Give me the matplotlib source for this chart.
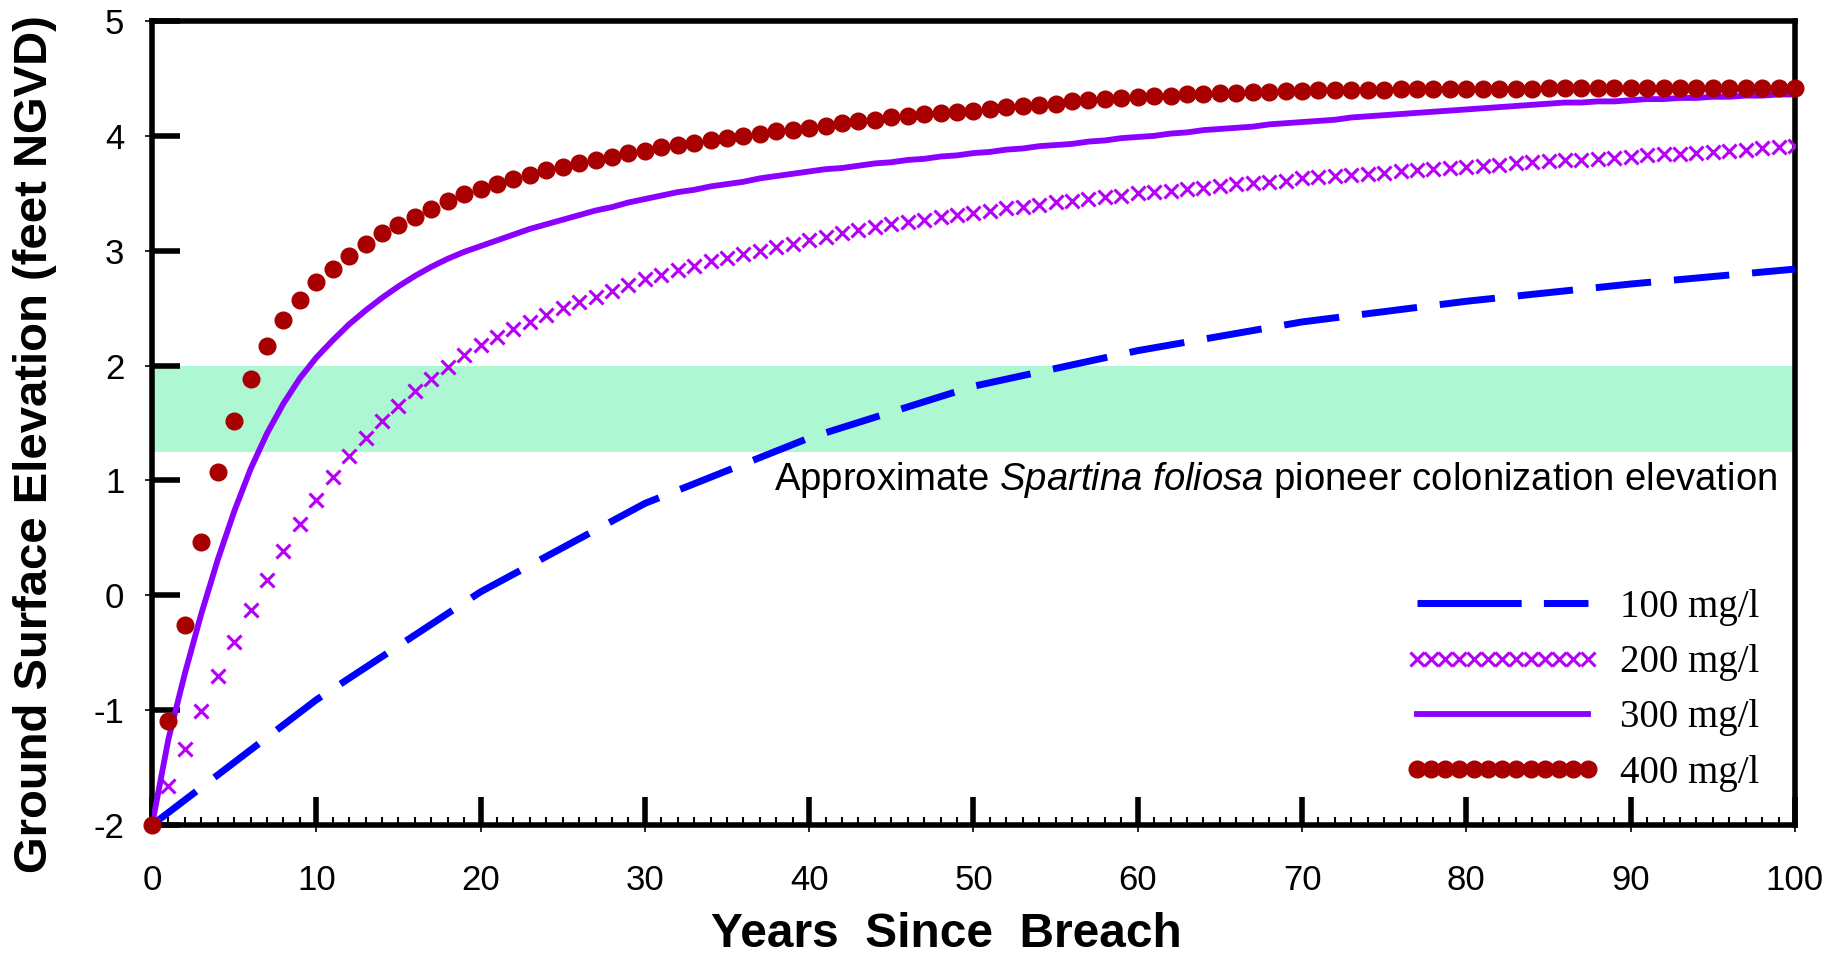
"""Ground surface elevation after breach for four sediment concentrations."""

import matplotlib

matplotlib.use("Agg")
import matplotlib.pyplot as plt
from matplotlib.lines import Line2D
from matplotlib.ticker import MultipleLocator

YEARS = list(range(0, 101))

# 100 mg/l read at each decade (drawn as a dashed polyline)
DECADES = [0, 10, 20, 30, 40, 50, 60, 70, 80, 90, 100]
ELEV_100 = [-2.0, -0.91, 0.03, 0.80, 1.37, 1.82, 2.13, 2.38, 2.56, 2.71, 2.84]

ELEV_200 = [
    -2.0, -1.66, -1.34, -1.01, -0.70, -0.41, -0.13, 0.13, 0.39, 0.62,
    0.83, 1.03, 1.21, 1.37, 1.52, 1.65, 1.78, 1.88, 1.99, 2.09,
    2.18, 2.25, 2.32, 2.38, 2.44, 2.50, 2.55, 2.60, 2.65, 2.70,
    2.75, 2.79, 2.83, 2.87, 2.91, 2.94, 2.97, 3.00, 3.03, 3.06,
    3.09, 3.12, 3.15, 3.18, 3.21, 3.23, 3.25, 3.27, 3.29, 3.31,
    3.33, 3.35, 3.37, 3.38, 3.40, 3.42, 3.43, 3.45, 3.47, 3.48,
    3.50, 3.51, 3.52, 3.54, 3.55, 3.56, 3.58, 3.59, 3.60, 3.61,
    3.63, 3.64, 3.65, 3.66, 3.67, 3.68, 3.69, 3.70, 3.71, 3.72,
    3.73, 3.74, 3.75, 3.76, 3.77, 3.78, 3.79, 3.79, 3.80, 3.81,
    3.82, 3.83, 3.84, 3.84, 3.85, 3.86, 3.87, 3.88, 3.89, 3.90,
    3.91,
]

ELEV_300 = [
    -2.0, -1.25, -0.68, -0.16, 0.31, 0.73, 1.10, 1.41, 1.67, 1.89,
    2.07, 2.22, 2.36, 2.48, 2.59, 2.69, 2.78, 2.86, 2.93, 2.99,
    3.04, 3.09, 3.14, 3.19, 3.23, 3.27, 3.31, 3.35, 3.38, 3.42,
    3.45, 3.48, 3.51, 3.53, 3.56, 3.58, 3.60, 3.63, 3.65, 3.67,
    3.69, 3.71, 3.72, 3.74, 3.76, 3.77, 3.79, 3.80, 3.82, 3.83,
    3.85, 3.86, 3.88, 3.89, 3.91, 3.92, 3.93, 3.95, 3.96, 3.98,
    3.99, 4.00, 4.02, 4.03, 4.05, 4.06, 4.07, 4.08, 4.10, 4.11,
    4.12, 4.13, 4.14, 4.16, 4.17, 4.18, 4.19, 4.20, 4.21, 4.22,
    4.23, 4.24, 4.25, 4.26, 4.27, 4.28, 4.29, 4.29, 4.30, 4.30,
    4.31, 4.32, 4.32, 4.33, 4.33, 4.34, 4.34, 4.35, 4.35, 4.36,
    4.36,
]

ELEV_400 = [
    -2.0, -1.09, -0.26, 0.46, 1.07, 1.52, 1.88, 2.17, 2.40, 2.57,
    2.73, 2.84, 2.95, 3.06, 3.15, 3.22, 3.29, 3.36, 3.43, 3.49,
    3.54, 3.58, 3.62, 3.66, 3.70, 3.73, 3.76, 3.79, 3.82, 3.85,
    3.87, 3.90, 3.92, 3.94, 3.96, 3.98, 4.00, 4.02, 4.04, 4.05,
    4.07, 4.09, 4.11, 4.13, 4.14, 4.16, 4.17, 4.19, 4.20, 4.21,
    4.22, 4.23, 4.25, 4.26, 4.27, 4.28, 4.30, 4.31, 4.32, 4.33,
    4.34, 4.35, 4.35, 4.36, 4.36, 4.37, 4.37, 4.38, 4.38, 4.39,
    4.39, 4.40, 4.40, 4.40, 4.40, 4.40, 4.41, 4.41, 4.41, 4.41,
    4.41, 4.41, 4.41, 4.41, 4.41, 4.42, 4.42, 4.42, 4.42, 4.42,
    4.42, 4.42, 4.42, 4.42, 4.42, 4.42, 4.42, 4.42, 4.42, 4.42,
    4.42,
]

BAND_LOW, BAND_HIGH = 1.25, 2.0
LABELS = ["100 mg/l", "200 mg/l", "300 mg/l", "400 mg/l"]

BLUE = "#0000FF"
MAGENTA = "#B400F5"
VIOLET = "#8C00FF"
DARK_RED = "#A80000"
MINT = "#ADF7D3"

plt.rcParams["axes.unicode_minus"] = False
plt.rcParams["mathtext.fontset"] = "custom"
plt.rcParams["mathtext.rm"] = "Liberation Sans"
plt.rcParams["mathtext.it"] = "Liberation Sans:italic"
SANS = ["Liberation Sans", "DejaVu Sans"]


def main() -> None:
    fig = plt.figure(figsize=(18.34, 9.58), dpi=100)
    ax = fig.add_axes([0.0829, 0.1388, 0.8958, 0.8393])

    ax.axhspan(BAND_LOW, BAND_HIGH, color=MINT, lw=0, zorder=0)

    ax.plot(DECADES, ELEV_100, color=BLUE, lw=5, dashes=(8, 3.3),
            solid_capstyle="butt", dash_capstyle="butt", zorder=3)
    ax.plot(YEARS, ELEV_200, ls="none", marker="x", ms=9.5, mew=2.2,
            color=MAGENTA, zorder=3)
    ax.plot(YEARS, ELEV_300, color=VIOLET, lw=4.2, zorder=4)
    ax.plot(YEARS, ELEV_400, ls="none", marker="o", ms=12, color=DARK_RED,
            mec=DARK_RED, zorder=5, clip_on=False)

    ax.text(98.9, 1.0,
            r"Approximate $\mathit{Spartina\ foliosa}$ pioneer colonization elevation",
            ha="right", va="center", fontsize=27.5, family=SANS)

    ax.set_xlim(0, 100)
    ax.set_ylim(-2, 5)
    ax.xaxis.set_major_locator(MultipleLocator(10))
    ax.xaxis.set_minor_locator(MultipleLocator(1))
    ax.yaxis.set_major_locator(MultipleLocator(1))

    for side in ["left", "right", "top", "bottom"]:
        ax.spines[side].set_linewidth(4)
    ax.tick_params(axis="both", which="major", direction="in", length=20,
                   width=4, labelsize=25)
    ax.tick_params(axis="x", which="major", pad=28)
    ax.tick_params(axis="y", which="major", pad=20)
    ax.tick_params(axis="x", which="minor", direction="in", length=6, width=1.5)
    ax.tick_params(top=False, right=False, which="both")
    for lab in ax.get_xticklabels() + ax.get_yticklabels():
        lab.set_family(SANS)

    # small outward stubs at the major ticks
    secx = ax.secondary_xaxis("bottom")
    secx.xaxis.set_major_locator(MultipleLocator(10))
    secx.tick_params(direction="out", length=5, width=1.2, labelbottom=False)
    secx.spines["bottom"].set_visible(False)
    secy = ax.secondary_yaxis("left")
    secy.yaxis.set_major_locator(MultipleLocator(1))
    secy.tick_params(direction="out", length=5, width=1.2, labelleft=False)
    secy.spines["left"].set_visible(False)

    fig.text(0.019, 0.536, "Ground Surface Elevation (feet NGVD)",
             rotation=90, ha="center", va="center", fontsize=34,
             fontweight="bold",
             family=["Liberation Sans Narrow", "Liberation Sans", "DejaVu Sans"])
    fig.text(0.516, 0.025, "Years  Since  Breach", ha="center",
             va="center", fontsize=34.5, fontweight="bold", family=SANS)

    handles = [
        Line2D([], [], color=BLUE, lw=5, dashes=(15, 3.2), dash_capstyle="butt"),
        Line2D([], [], ls="none", marker="x", ms=9.5, mew=2.2, color=MAGENTA),
        Line2D([], [], color=VIOLET, lw=4.2),
        Line2D([], [], ls="none", marker="o", ms=12, color=DARK_RED),
    ]
    ax.legend(handles, LABELS, loc="upper right", bbox_to_anchor=(0.988, 0.313),
              frameon=False, numpoints=13, handlelength=5.0, handletextpad=0.54,
              labelspacing=0.47, borderaxespad=0,
              prop={"family": ["Liberation Serif", "DejaVu Serif"], "size": 28})

    fig.savefig("out.png", dpi=100)


if __name__ == "__main__":
    main()
